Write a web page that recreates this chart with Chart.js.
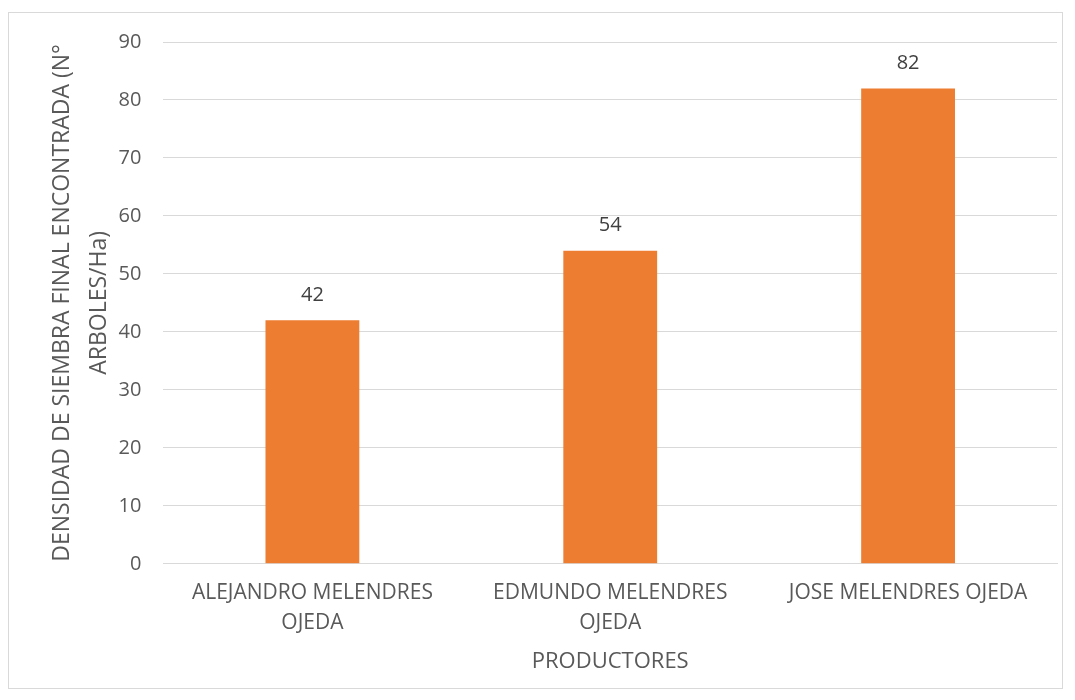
<!DOCTYPE html>
<html>
<head>
<meta charset="utf-8">
<script src="https://cdn.jsdelivr.net/npm/chart.js@4"></script>
<style>
  body { margin: 0; background: #fff; }
  #caja { position: absolute; left: 8px; top: 12px; width: 1055px; height: 677px; border: 1px solid #d9d9d9; box-sizing: border-box; }
</style>
</head>
<body>
<div id="caja"><canvas id="grafico"></canvas></div>
<script>
// Datos del gráfico
const productores = [["ALEJANDRO MELENDRES", "OJEDA"], ["EDMUNDO MELENDRES", "OJEDA"], "JOSE MELENDRES OJEDA"];
const densidad = [42, 54, 82];
const tituloY = ["DENSIDAD DE SIEMBRA FINAL ENCONTRADA (N°", "ARBOLES/Ha)"];
const tituloX = "PRODUCTORES";

const fuente = "'Open Sans', 'Liberation Sans', sans-serif";

// Plugin para escribir el valor sobre cada barra
const etiquetas = {
  id: "etiquetas",
  afterDatasetsDraw(chart) {
    const ctx = chart.ctx;
    const meta = chart.getDatasetMeta(0);
    ctx.save();
    ctx.font = "20px " + fuente;
    ctx.fillStyle = "#404040";
    ctx.textAlign = "center";
    ctx.textBaseline = "middle";
    meta.data.forEach((barra, i) => {
      ctx.fillText(densidad[i], barra.x, barra.y - 25);
    });
    ctx.restore();
  }
};

const ctx = document.getElementById("grafico");

new Chart(ctx, {
  type: "bar",
  data: {
    labels: productores,
    datasets: [
      {
        data: densidad,
        backgroundColor: "#ed7d31",
        categoryPercentage: 1,
        barPercentage: 0.315,
      },
    ],
  },
  options: {
    responsive: true,
    maintainAspectRatio: false,
    animation: false,
    layout: { padding: { top: 29, right: 5, bottom: 9, left: 35 } },
    plugins: {
      legend: { display: false },
      tooltip: { enabled: false },
    },
    scales: {
      x: {
        grid: { display: false },
        border: { color: "#d9d9d9", width: 1 },
        ticks: { color: "#595959", font: { family: fuente, size: 21, lineHeight: 1.4 }, padding: 7, maxRotation: 0 },
        title: { display: true, text: tituloX, color: "#595959", font: { family: fuente, size: 22 }, padding: { top: 4 } },
      },
      y: {
        min: 0,
        max: 90,
        ticks: { stepSize: 10, color: "#595959", font: { family: fuente, size: 20 }, padding: 22 },
        grid: { color: "#d9d9d9", drawTicks: false },
        border: { display: false },
        title: { display: true, text: tituloY, color: "#595959", font: { family: fuente, size: 23, lineHeight: 1.6 }, padding: { top: 0, bottom: -21 } },
        // el padding de los ticks no debe empujar el área del gráfico hacia abajo
        afterFit: (escala) => {
          escala.paddingTop = 0;
        },
      },
    },
  },
  plugins: [etiquetas],
});
</script>
</body>
</html>
